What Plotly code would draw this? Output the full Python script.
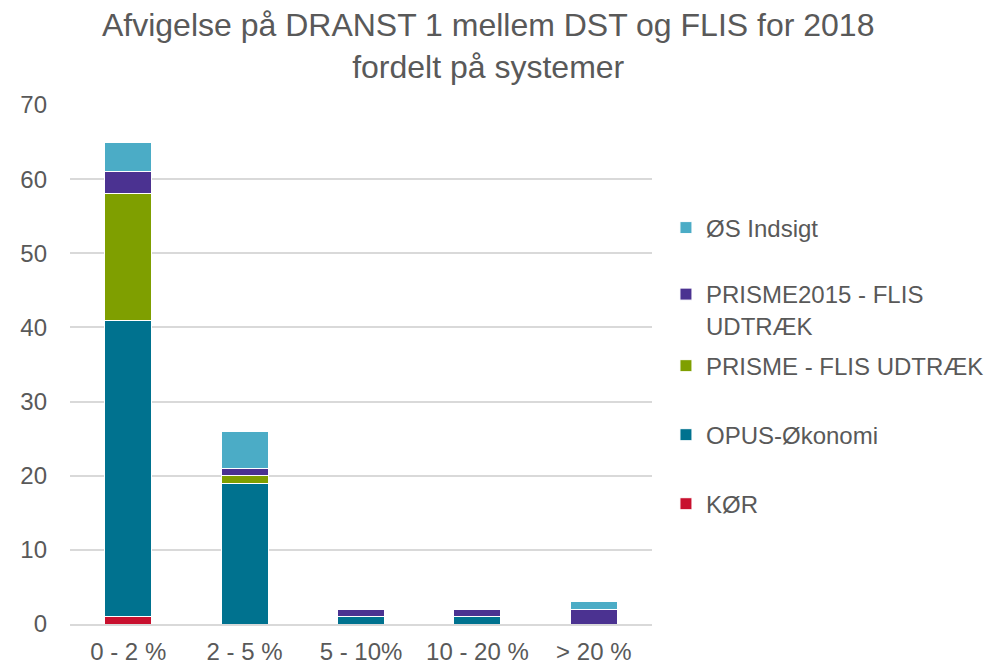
import plotly.graph_objects as go

categories = ["0 - 2 %", "2 - 5 %", "5 - 10%", "10 - 20 %", "> 20 %"]
kor = [1, 0, 0, 0, 0]
opus = [40, 19, 1, 1, 0]
prisme = [17, 1, 0, 0, 0]
prisme2015 = [3, 1, 1, 1, 2]
os_indsigt = [4, 5, 0, 0, 1]

series = [
    ("KØR", kor, "#C8102E"),
    ("OPUS-Økonomi", opus, "#00728F"),
    ("PRISME - FLIS UDTRÆK", prisme, "#7F9F00"),
    ("PRISME2015 - FLIS<br>UDTRÆK", prisme2015, "#4B3291"),
    ("ØS Indsigt", os_indsigt, "#4BACC6"),
]
legend_ids = ["legend", "legend2", "legend3", "legend4", "legend5"]
legend_y = [0.231, 0.364, 0.497, 0.605, 0.763]

fig = go.Figure()
for i, (name, vals, col) in enumerate(series):
    fig.add_trace(go.Bar(
        x=categories, y=vals, name=name, legend=legend_ids[i], showlegend=True,
        marker=dict(color=col, line=dict(color="white", width=1)),
    ))

legend_style = dict(
    x=1.024, xanchor="left", yanchor="middle",
    font=dict(size=24, color="#595959"), valign="top",
    bgcolor="rgba(0,0,0,0)", visible=True,
)

fig.update_layout(
    width=984, height=656, showlegend=True,
    barmode="stack", bargap=0.595,
    paper_bgcolor="white", plot_bgcolor="white",
    font=dict(family="Liberation Sans, Arial, sans-serif", color="#595959", size=24),
    title=dict(
        text="Afvigelse på DRANST 1 mellem DST og FLIS for 2018<br>fordelt på systemer",
        x=0.488, xanchor="center", xref="container",
        y=1.0, yanchor="bottom", yref="paper", pad=dict(b=69),
        font=dict(size=32, color="#595959"),
    ),
    margin=dict(l=62, r=340, t=97, b=40, autoexpand=False),
    xaxis=dict(showgrid=False, linecolor="#D9D9D9", linewidth=1.5, showline=True,
               tickfont=dict(size=24), ticks="", automargin=False,
               ticklabelstandoff=5),
    yaxis=dict(range=[0, 70], dtick=10, gridcolor="#D9D9D9", gridwidth=1.5,
               zeroline=False, showline=False, tickfont=dict(size=24), ticks="",
               ticklabelstandoff=22, automargin=False),
)
for lid, ly in zip(legend_ids, legend_y):
    fig.update_layout({lid: dict(legend_style, y=ly)})

fig.write_html("out.html")
